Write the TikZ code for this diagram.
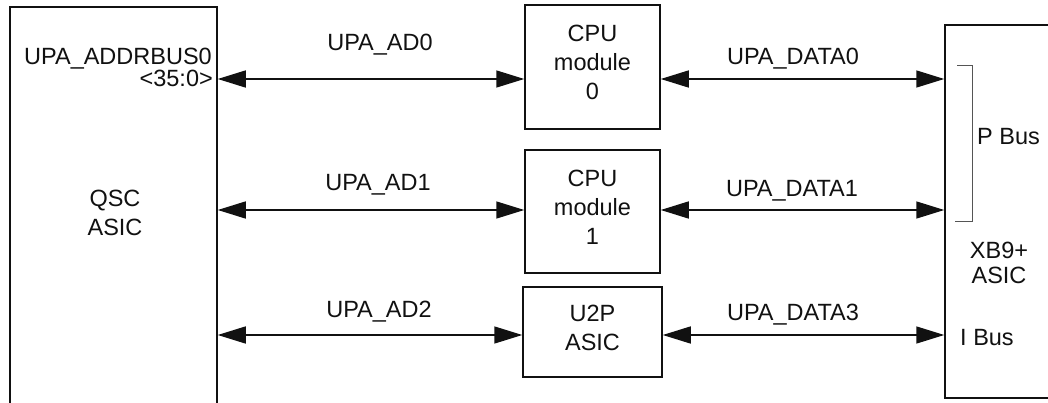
\documentclass[tikz,border=0pt]{standalone}
\usepackage{fontspec}
\setmainfont{Liberation Sans}
\usetikzlibrary{
  positioning,
  arrows.meta,
}
\definecolor{border}{HTML}{111111}
\definecolor{textCol}{HTML}{111111}
\definecolor{bracketGray}{HTML}{555555}
\tikzset{
  chipbox/.style={
    rectangle, draw=border, fill=white, line width=1.5pt,
    align=center, inner sep=0pt, text=textCol,
    font=\fontsize{23.5}{29}\selectfont,
  },
  modbox/.style={
    chipbox, execute at end node={\rule[-9pt]{0pt}{9pt}},
  },
  chiptext/.style={
    align=center, inner sep=0pt, text=textCol,
    font=\fontsize{23.5}{29}\selectfont,
  },
  buslabel/.style={
    anchor=base, inner sep=0pt, text=textCol,
    font=\fontsize{23.5}{29}\selectfont,
  },
  busarrow/.style={
    {Triangle[length=28pt,width=17pt]}-{Triangle[length=28pt,width=17pt]},
    draw=border, line width=1.5pt,
  },
  pbracket/.style={draw=bracketGray, line width=1pt},
}

\begin{document}
\begin{tikzpicture}[x=1pt, y=-1pt]

  \useasboundingbox (0,0) rectangle (1048,403);
  \clip (0,0) rectangle (1048,403);

  % ASICs at both sides (run off the page)
  \node[chipbox, minimum width=207pt, minimum height=433pt] (qsc) at (113.5, 223.5) {};
  \node[chiptext] (qsctext) at (115, 212.6) {QSC\\ASIC};
  \node[buslabel, anchor=base east] (addrbus) at (212, 65) {UPA\_ADDRBUS0};
  \node[buslabel, anchor=base east] (addrrange) at (213, 87) {<35:0>};

  \node[chipbox, minimum width=155pt, minimum height=373pt] (xb9) at (1022.5, 211.5) {};
  \node[chiptext, font=\fontsize{23.5}{25}\selectfont] (xb9text) at (999, 263) {XB9+\\ASIC};
  \node[buslabel, anchor=base west] (pbus) at (977, 145) {P Bus};
  \node[buslabel, anchor=base west] (ibus) at (960, 345) {I Bus};

  % Modules
  \node[modbox, minimum width=135pt, minimum height=124pt] (cpu0) at (592.5, 67) {CPU\\module\\0};
  \node[modbox, minimum width=135pt, minimum height=123pt] (cpu1) at (592.5, 211.5) {CPU\\module\\1};
  \node[modbox, minimum width=139pt, minimum height=90pt] (u2p) at (592.5, 332) {U2P\\ASIC};

  % Buses
  \draw[busarrow] (qsc.east |- 0,79) -- (cpu0.west |- 0,79);
  \draw[busarrow] (cpu0.east |- 0,79) -- (xb9.west |- 0,79);
  \draw[busarrow] (qsc.east |- 0,210) -- (cpu1.west |- 0,210);
  \draw[busarrow] (cpu1.east |- 0,210) -- (xb9.west |- 0,210);
  \draw[busarrow] (qsc.east |- 0,335) -- (u2p.west |- 0,335);
  \draw[busarrow] (u2p.east |- 0,335) -- (xb9.west |- 0,335);

  \node[buslabel] (ad0) at (380, 51) {UPA\_AD0};
  \node[buslabel] (data0) at (793, 65) {UPA\_DATA0};
  \node[buslabel] (ad1) at (378, 191) {UPA\_AD1};
  \node[buslabel] (data1) at (792, 197) {UPA\_DATA1};
  \node[buslabel] (ad2) at (379, 317) {UPA\_AD2};
  \node[buslabel] (data3) at (793, 320) {UPA\_DATA3};

  % P Bus bracket
  \draw[pbracket] (957,66) -- (972,66) -- (972,222) -- (955,222);

\end{tikzpicture}
\end{document}
